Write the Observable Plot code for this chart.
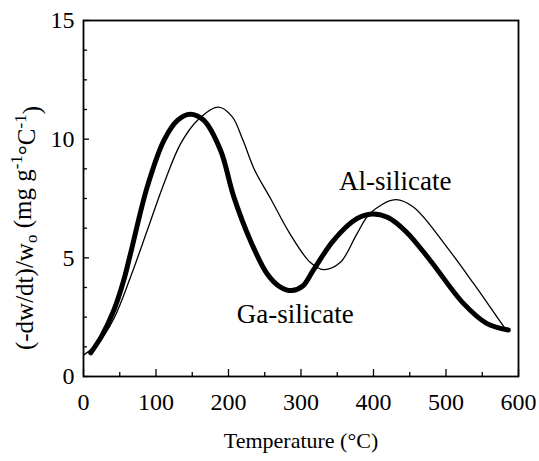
<!DOCTYPE html>
<html><head><meta charset="utf-8">
<script src="https://cdn.jsdelivr.net/npm/d3@7"></script>
<script src="https://cdn.jsdelivr.net/npm/@observablehq/plot@0.6"></script>
<style>
body{margin:0;background:#fff}
#chart svg, #chart svg text, #chart svg g { font-family: "Liberation Serif", "Times New Roman", serif !important; }
</style>
</head><body><div id="chart"></div>
<script>
// Ga-silicate (thick curve)
const gaTemp = [10, 25, 42, 55, 65, 88, 111, 130, 147, 166, 189, 207, 230, 253, 270, 287, 302, 317, 345, 377, 398, 420, 445, 478, 524, 556, 586];
const gaRate = [1.0, 1.7, 2.8, 4.0, 5.2, 8.0, 9.95, 10.8, 11.05, 10.79, 9.53, 7.6, 5.74, 4.34, 3.8, 3.62, 3.8, 4.48, 5.74, 6.65, 6.85, 6.7, 6.1, 4.9, 3.08, 2.24, 1.96];
// Al-silicate (thin curve)
const alTemp = [0, 20, 42, 65, 88, 111, 134, 157, 186, 205, 220, 236, 258, 285, 313, 331, 354, 377, 395, 430, 455, 501, 538, 566, 581];
const alRate = [0.9, 1.4, 2.45, 4.2, 6.16, 8.13, 9.81, 10.79, 11.35, 10.95, 9.95, 8.7, 7.5, 6.0, 4.8, 4.5, 4.8, 6.0, 6.87, 7.45, 7.14, 5.46, 3.92, 2.7, 2.05];
// annotations
const labelText = ["Al-silicate", "Ga-silicate"];
const labelTemp = [430, 292];
const labelRate = [8.21, 2.61];
// ticks
const xMajor = [0, 100, 200, 300, 400, 500, 600];
const xMinor = [50, 150, 250, 350, 450, 550];
const yMajor = [0, 5, 10, 15];
const yMinor = [1.25, 2.5, 3.75, 6.25, 7.5, 8.75, 11.25, 12.5, 13.75];
const xTitle = "Temperature (°C)";

const ga = gaTemp.map((t, i) => ({t, r: gaRate[i]}));
const al = alTemp.map((t, i) => ({t, r: alRate[i]}));
const labels = labelText.map((s, i) => ({s, t: labelTemp[i], r: labelRate[i]}));

const font = '"Liberation Serif", "Times New Roman", serif';
const plot = Plot.plot({
  width: 539, height: 461,
  marginLeft: 83, marginRight: 21, marginTop: 20, marginBottom: 85,
  style: {fontFamily: font, fontSize: "24px", color: "#000", background: "#fff"},
  x: {domain: [0, 600], label: null},
  y: {domain: [0, 15], label: null},
  marks: [
    Plot.axisX(xMinor, {tickSize: -4, tickFormat: () => "", strokeWidth: 1.3, label: null}),
    Plot.axisX(xMajor, {tickSize: -7, tickFormat: () => "", strokeWidth: 1.3, label: null}),
    Plot.axisX(xMajor, {tickSize: 0, tickPadding: 16, fontSize: 24, fontFamily: font, label: null}),
    Plot.axisY(yMinor, {tickSize: -4, tickFormat: () => "", strokeWidth: 1.3, label: null}),
    Plot.axisY(yMajor, {tickSize: -6, tickFormat: () => "", strokeWidth: 1.3, label: null}),
    Plot.axisY(yMajor, {tickSize: 0, tickPadding: 9, fontSize: 24, fontFamily: font, label: null}),
    Plot.frame({stroke: "#000", strokeWidth: 1.8}),
    Plot.line(al, {x: "t", y: "r", curve: "catmull-rom", stroke: "#000", strokeWidth: 1.3}),
    Plot.line(ga, {x: "t", y: "r", curve: "catmull-rom", stroke: "#000", strokeWidth: 5}),
    Plot.text(labels, {x: "t", y: "r", text: "s", fontSize: 27, fontFamily: font, fill: "#000"}),
    Plot.text([xTitle], {frameAnchor: "bottom", dy: 71, lineAnchor: "bottom", fontSize: 22, fontFamily: font, fill: "#000"})
  ]
});
document.getElementById("chart").appendChild(plot);

// y-axis title with subscript / superscripts
const svg = d3.select(plot);
const yt = svg.append("text")
  .attr("transform", "translate(33,228) rotate(-90)")
  .attr("text-anchor", "middle")
  .attr("font-family", font)
  .attr("font-size", 25)
  .attr("fill", "#000");
yt.append("tspan").text("(-dw/dt)/w");
yt.append("tspan").attr("font-size", 17).attr("dy", "0.25em").text("o");
yt.append("tspan").attr("dy", "-0.25em").text(" (mg g");
yt.append("tspan").attr("font-size", 17).attr("dy", "-0.55em").text("-1");
yt.append("tspan").attr("dy", "0.55em").text("°C");
yt.append("tspan").attr("font-size", 17).attr("dy", "-0.55em").text("-1");
yt.append("tspan").attr("dy", "0.55em").text(")");
</script>
</body></html>
